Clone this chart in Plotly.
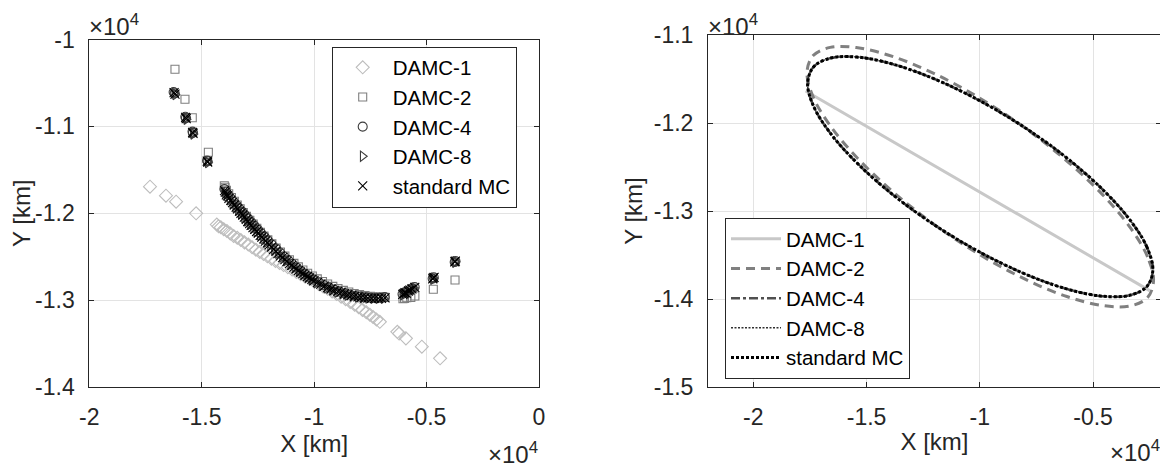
import plotly.graph_objects as go

FONT = "Liberation Sans, Arial, Helvetica, sans-serif"
OFF = 8  # default page margin around the figure
W, H = 1168 - OFF, 468 - OFF
ML, MR, MT, MB = 30, 2, 22, 52
PW, PH = W - ML - MR, H - MT - MB


def fx(px):
    return (px - OFF - ML) / PW


def fy(py):
    return 1 - (py - OFF - MT) / PH


# ---------------- data (km) ----------------
series_names = ["DAMC-1", "DAMC-2", "DAMC-4", "DAMC-8", "standard MC"]

# Left panel: sample points
x_d1 = [-17300, -16590, -16140, -15250,
        -14330, -14250, -14150, -14020, -13880, -13730, -13580, -13420, -13260, -13100,
        -12930, -12760, -12590, -12420, -12250, -12080, -11900, -11720, -11540, -11360,
        -11170, -10980, -10790, -10600, -10400, -10200, -10000, -9800, -9600, -9400,
        -9200, -9000, -8800, -8600, -8400, -8200, -8020, -7850, -7680, -7520,
        -7380, -7230, -7080,
        -6300, -6220, -5920, -5210, -4400]
y_d1 = [-11694, -11798, -11867, -12001,
        -12130, -12150, -12162, -12185, -12205, -12232, -12262, -12282, -12308, -12335,
        -12360, -12392, -12420, -12445, -12470, -12496, -12522, -12548, -12572, -12596,
        -12622, -12648, -12676, -12702, -12730, -12757, -12785, -12814, -12842, -12870,
        -12900, -12930, -12960, -12990, -13020, -13052, -13082, -13112, -13140, -13168,
        -13195, -13222, -13250,
        -13365, -13385, -13440, -13536, -13670]

x_d2 = [-16190, -15745, -15420, -14705, -13995, -13960,
        -13900, -13800, -13680, -13550, -13420, -13290, -13150, -13010, -12860, -12710,
        -12550, -12390, -12230, -12060, -11880, -11690, -11500, -11300, -11100, -10900,
        -10700, -10500, -10290, -10080, -9860, -9630, -9400, -9170, -8940, -8700,
        -8460, -8220, -7980, -7740, -7500, -7260, -7020, -6850,
        -6050, -5980, -5880, -5700, -5520, -4700, -3735]
y_d2 = [-10343, -10688, -10900, -11298, -11683, -11700,
        -11735, -11775, -11818, -11862, -11905, -11948, -11992, -12035, -12080, -12125,
        -12172, -12218, -12262, -12307, -12353, -12400, -12446, -12492, -12535, -12577,
        -12617, -12654, -12690, -12723, -12755, -12786, -12815, -12842, -12866, -12888,
        -12907, -12923, -12937, -12948, -12957, -12963, -12967, -12968,
        -12985, -12980, -12972, -12970, -12952, -12875, -12768]

x_d4 = [-16250, -16200, -15730, -15700, -15410, -15390, -14760, -14740,
        -13990, -13920, -13820, -13700, -13580, -13450, -13330, -13200, -13060, -12930,
        -12790, -12650, -12500, -12350, -12200, -12050, -11880, -11700, -11520, -11340,
        -11150, -10960, -10770, -10580, -10390, -10200, -10010, -9780, -9560, -9330,
        -9100, -8870, -8640, -8410, -8180, -7950, -7720, -7490, -7260, -7030, -6860,
        -6070, -5990, -5910, -5760, -5640, -5530, -4730, -4680, -3750, -3715]
y_d4 = [-10605, -10620, -10890, -10905, -11060, -11075, -11392, -11402,
        -11722, -11752, -11790, -11832, -11868, -11908, -11945, -11982, -12025, -12062,
        -12105, -12145, -12188, -12230, -12272, -12315, -12360, -12405, -12452, -12497,
        -12542, -12585, -12628, -12666, -12702, -12735, -12765, -12797, -12828, -12856,
        -12882, -12903, -12922, -12938, -12950, -12960, -12967, -12972, -12973, -12971, -12966,
        -12930, -12912, -12905, -12882, -12865, -12850, -12752, -12738, -12562, -12550]

x_d8 = [-16220, -16175, -15705, -15680, -15395, -15375, -14745, -14725,
        -13970, -13880, -13760, -13640, -13510, -13390, -13260, -13120, -12990, -12850,
        -12710, -12570, -12420, -12270, -12120, -11960, -11790, -11610, -11430, -11250,
        -11060, -10870, -10680, -10490, -10300, -10110, -9900, -9670, -9440, -9210,
        -8980, -8750, -8520, -8290, -8060, -7830, -7600, -7370, -7140, -6910,
        -6050, -5970, -5880, -5700, -5560, -4715, -4690, -3735, -3725]
y_d8 = [-10618, -10635, -10902, -10918, -11075, -11088, -11405, -11418,
        -11760, -11800, -11845, -11885, -11930, -11968, -12008, -12050, -12090, -12130,
        -12170, -12210, -12250, -12292, -12332, -12373, -12418, -12462, -12505, -12547,
        -12590, -12630, -12668, -12703, -12737, -12768, -12800, -12832, -12860, -12886,
        -12908, -12927, -12943, -12955, -12965, -12972, -12977, -12980, -12981, -12980,
        -12940, -12922, -12908, -12880, -12860, -12760, -12748, -12566, -12556]

x_mc = [-16230, -16190, -15715, -15690, -15405, -15385, -14755, -14735,
        -13985, -13950, -13905, -13850, -13790, -13705, -13630, -13555, -13470, -13405,
        -13320, -13255, -13175, -13105, -13020, -12955, -12870, -12805, -12720, -12645,
        -12560, -12485, -12400, -12325, -12240, -12165, -12080, -12005, -11900, -11805,
        -11700, -11610, -11500, -11405, -11300, -11210, -11100, -11005, -10900, -10810,
        -10700, -10605, -10500, -10410, -10300, -10205, -10100, -10005, -9850, -9705,
        -9550, -9405, -9250, -9105, -8950, -8805, -8650, -8505, -8350, -8205,
        -8050, -7905, -7750, -7605, -7450, -7305, -7150, -7005, -6850,
        -6060, -6010, -5960, -5905, -5805, -5745, -5650, -5525, -4725, -4700, -4665, -3745, -3720]
y_mc = [-10612, -10628, -10896, -10912, -11068, -11080, -11399, -11410,
        -11740, -11758, -11788, -11800, -11828, -11852, -11878, -11905, -11930, -11950,
        -11975, -12000, -12020, -12045, -12070, -12095, -12120, -12140, -12165, -12185,
        -12210, -12230, -12255, -12275, -12295, -12320, -12340, -12365, -12390, -12415,
        -12440, -12465, -12490, -12510, -12535, -12555, -12580, -12600, -12620, -12640,
        -12660, -12678, -12695, -12712, -12728, -12745, -12760, -12775, -12795, -12815,
        -12838, -12855, -12872, -12888, -12900, -12912, -12925, -12938, -12948, -12957,
        -12963, -12968, -12973, -12976, -12979, -12980, -12980, -12979, -12975,
        -12935, -12925, -12915, -12920, -12895, -12884, -12870, -12853, -12755, -12745, -12738, -12560, -12552]

# Right panel: confidence-ellipse outlines
ell1_x = [-17690, -2500, -17690]
ell1_y = [-11636, -13905, -11636]

ell2_x = [-2330, -2591, -3355, -4571, -6155, -8000, -9980, -11960, -13805, -15389, -16605, -17369,
          -17630, -17369, -16605, -15389, -13805, -11960, -9980, -8000, -6155, -4571, -3355, -2591, -2330]
ell2_y = [-13793, -13523, -13189, -12817, -12432, -12057, -11721, -11445, -11248, -11145, -11141, -11237,
          -11427, -11697, -12031, -12403, -12788, -13163, -13499, -13775, -13972, -14075, -14079, -13983, -13793]

ell4_x = [-2360, -2620, -3381, -4592, -6170, -8008, -9980, -11952, -13790, -15368, -16579, -17340,
          -17600, -17340, -16579, -15368, -13790, -11952, -9980, -8008, -6170, -4592, -3381, -2620, -2360]
ell4_y = [-13670, -13411, -13098, -12752, -12395, -12053, -11750, -11505, -11335, -11252, -11262, -11363,
          -11550, -11809, -12122, -12468, -12825, -13167, -13470, -13715, -13885, -13968, -13958, -13857, -13670]

ell8_x = list(ell4_x)
ell8_y = list(ell4_y)
ellmc_x = list(ell4_x)
ellmc_y = list(ell4_y)

x_left_ticks = [-20000, -15000, -10000, -5000, 0]
x_left_text = ["-2", "-1.5", "-1", "-0.5", "0"]
y_left_ticks = [-14000, -13000, -12000, -11000, -10000]
y_left_text = ["-1.4", "-1.3", "-1.2", "-1.1", "-1"]
x_right_ticks = [-20000, -15000, -10000, -5000]
x_right_text = ["-2", "-1.5", "-1", "-0.5"]
y_right_ticks = [-15000, -14000, -13000, -12000, -11000]
y_right_text = ["-1.5", "-1.4", "-1.3", "-1.2", "-1.1"]

# ---------------- figure ----------------
fig = go.Figure()

left_pts = [
    (x_d1, y_d1, "diamond-open", "#bdbdbd", 10),
    (x_d2, y_d2, "square-open", "#7f7f7f", 8),
    (x_d4, y_d4, "circle-open", "#3c3c3c", 9),
    (x_d8, y_d8, "triangle-right-open", "#3c3c3c", 9),
    (x_mc, y_mc, "x-thin-open", "#000000", 9),
]
for name, (xs, ys, sym, col, sz) in zip(series_names, left_pts):
    fig.add_trace(go.Scatter(
        x=xs, y=ys, mode="markers", name=name, xaxis="x", yaxis="y", legend="legend",
        marker=dict(symbol=sym, size=sz, color=col, line=dict(color=col, width=1.1)),
    ))

right_lines = [
    (ell1_x, ell1_y, "#c8c8c8", 3, "solid", "linear"),
    (ell2_x, ell2_y, "#808080", 3, "9px,6px", "spline"),
    (ell4_x, ell4_y, "#505050", 2.5, "9px,3px,3px,3px", "spline"),
    (ell8_x, ell8_y, "#303030", 1.5, "2px,1.5px", "spline"),
    (ellmc_x, ellmc_y, "#000000", 3, "3px,2px", "spline"),
]
for name, (xs, ys, col, lw, dash, shape) in zip(series_names, right_lines):
    fig.add_trace(go.Scatter(
        x=xs, y=ys, mode="lines", name=name, xaxis="x2", yaxis="y2", legend="legend2",
        line=dict(color=col, width=lw, dash=dash, shape=shape, smoothing=1.0),
    ))

axcol = "#262626"
common = dict(showline=True, linecolor=axcol, linewidth=1, mirror="ticks",
              ticks="inside", ticklen=5, tickcolor=axcol, tickwidth=1,
              showgrid=True, gridcolor="#e3e3e3", gridwidth=1, zeroline=False,
              tickfont=dict(family=FONT, size=23, color=axcol), tickmode="array",
              automargin=False)
title_font = dict(family=FONT, size=24, color=axcol)

fig.update_layout(
    width=W, height=H, autosize=False,
    margin=dict(l=ML, r=MR, t=MT, b=MB, autoexpand=False),
    paper_bgcolor="white", plot_bgcolor="white",
    font=dict(family=FONT, color=axcol),
    xaxis=dict(domain=[fx(89.3), fx(539)], range=[-20000, 0], anchor="y",
               tickvals=x_left_ticks, ticktext=x_left_text, ticklabelstandoff=9,
               title=dict(text="X [km]", font=title_font, standoff=4), **common),
    yaxis=dict(domain=[fy(387), fy(39.5)], range=[-14000, -10000], anchor="x",
               tickvals=y_left_ticks, ticktext=y_left_text, ticklabelstandoff=9,
               title=dict(text="Y [km]", font=title_font, standoff=4), **common),
    xaxis2=dict(domain=[fx(708), fx(1161)], range=[-22000, -2000], anchor="y2",
                tickvals=x_right_ticks, ticktext=x_right_text, ticklabelstandoff=9,
                title=dict(text="X [km]", font=title_font, standoff=4), **common),
    yaxis2=dict(domain=[fy(387), fy(35)], range=[-15000, -11000], anchor="x2",
                tickvals=y_right_ticks, ticktext=y_right_text, ticklabelstandoff=9,
                title=dict(text="Y [km]", font=title_font, standoff=4), **common),
    legend=dict(x=fx(331.7), y=fy(46.5), xanchor="left", yanchor="top",
                bgcolor="white", bordercolor=axcol, borderwidth=1,
                font=dict(family=FONT, size=20.5, color="black"),
                itemwidth=50, tracegroupgap=0),
    legend2=dict(x=fx(725), y=fy(218), xanchor="left", yanchor="top",
                 bgcolor="white", bordercolor=axcol, borderwidth=1,
                 font=dict(family=FONT, size=20.5, color="black"),
                 itemwidth=50, tracegroupgap=0),
    showlegend=True,
)

exp_font = dict(family=FONT, size=24, color=axcol)
exp_text = "×10<sup>4</sup>"
fig.add_annotation(x=fx(87), y=fy(8), xref="paper", yref="paper", xanchor="left",
                   yanchor="top", text=exp_text, showarrow=False, font=exp_font)
fig.add_annotation(x=fx(706), y=fy(8), xref="paper", yref="paper", xanchor="left",
                   yanchor="top", text=exp_text, showarrow=False, font=exp_font)
fig.add_annotation(x=fx(540), y=fy(436), xref="paper", yref="paper", xanchor="right",
                   yanchor="top", text=exp_text, showarrow=False, font=exp_font)
fig.add_annotation(x=fx(1162), y=fy(434), xref="paper", yref="paper", xanchor="right",
                   yanchor="top", text=exp_text, showarrow=False, font=exp_font)

fig.write_html("out.html")
